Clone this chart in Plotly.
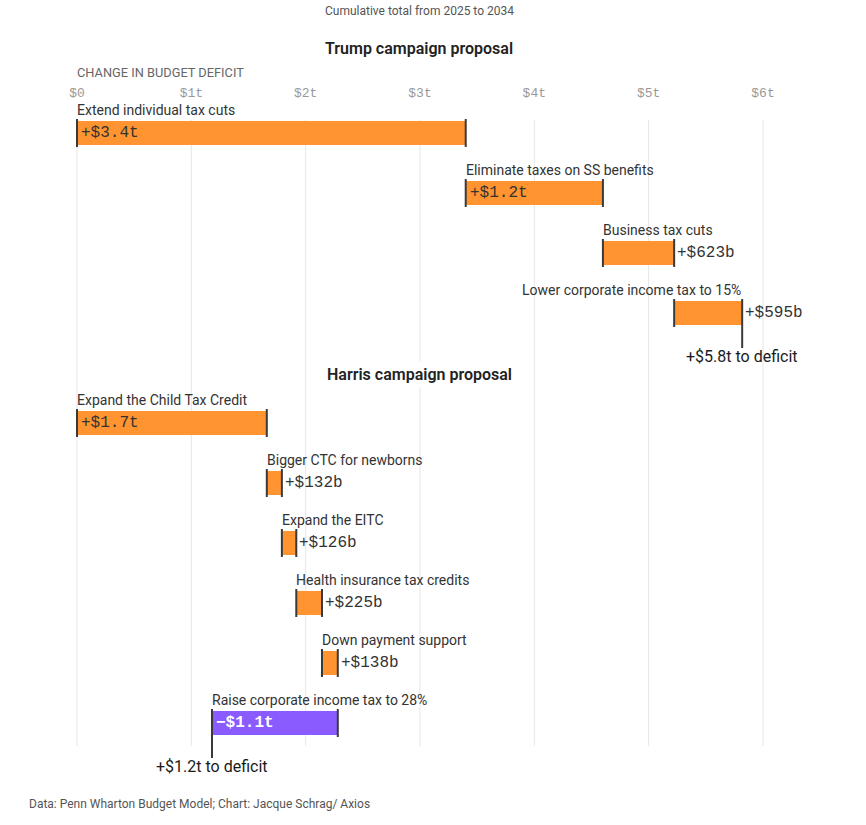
import plotly.graph_objects as go

# ---------------- data ----------------
trump_labels = ["Extend individual tax cuts", "Eliminate taxes on SS benefits",
                "Business tax cuts", "Lower corporate income tax to 15%"]
trump_values = [3.4, 1.2, 0.623, 0.595]          # $ trillions
trump_text = ["+$3.4t", "+$1.2t", "+$623b", "+$595b"]
trump_total_text = "+$5.8t to deficit"

harris_labels = ["Expand the Child Tax Credit", "Bigger CTC for newborns", "Expand the EITC",
                 "Health insurance tax credits", "Down payment support",
                 "Raise corporate income tax to 28%"]
harris_values = [1.66, 0.132, 0.126, 0.225, 0.138, -1.1]   # $ trillions
harris_text = ["+$1.7t", "+$132b", "+$126b", "+$225b", "+$138b", "\u2212$1.1t"]
harris_total_text = "+$1.2t to deficit"

tick_values = [0, 1, 2, 3, 4, 5, 6]
tick_labels = ["$0", "$1t", "$2t", "$3t", "$4t", "$5t", "$6t"]

# ---------------- layout constants ----------------
PAGE_OFF = 0                      # body margin removed by post_script
W, H = 866 - 2 * PAGE_OFF, 825 - 2 * PAGE_OFF
X0_PX, PX_PER_T = 77 - PAGE_OFF, 114.33
ROW_GAP = 60
BAR_H = 24
TRUMP_TOP = 133
HARRIS_TOP = 423
GRID_TOP, GRID_BOTTOM = 120, 746

ORANGE = "#FF9430"
PURPLE = "#8A5CFF"
CAP = "#3a3a3a"
SANS = "Roboto"
MONO = "Liberation Mono"

fig = go.Figure()
annotations = []
shapes = []

for v in tick_values:
    shapes.append(dict(type="line", xref="x", yref="y", x0=v, x1=v, y0=GRID_TOP, y1=GRID_BOTTOM,
                       line=dict(color="#e6e6e6", width=1), layer="below"))


def add_section(labels, values, texts, top, total_text, total_drop, align_right_last):
    starts, ends, ys = [], [], []
    cum = 0.0
    for i, v in enumerate(values):
        starts.append(cum)
        cum += v
        ends.append(cum)
        ys.append(top + i * ROW_GAP)
    colors = [ORANGE if v >= 0 else PURPLE for v in values]
    fig.add_trace(go.Bar(orientation="h", base=starts, x=values, y=ys, width=BAR_H,
                         marker=dict(color=colors, line=dict(width=0)),
                         hoverinfo="skip", showlegend=False))
    # caps
    cx, cy = [], []
    last = len(values) - 1
    for i in range(len(values)):
        for edge in (starts[i], ends[i]):
            cx += [edge, edge, None]
            bottom = ys[i] + BAR_H / 2 + 2
            if i == last and edge == ends[i]:
                bottom = ys[i] + BAR_H / 2 + total_drop
            cy += [ys[i] - BAR_H / 2 - 2, bottom, None]
    fig.add_trace(go.Scatter(x=cx, y=cy, mode="lines", line=dict(color=CAP, width=2),
                             hoverinfo="skip", showlegend=False))
    for i, (lab, v, t) in enumerate(zip(labels, values, texts)):
        lo, hi = min(starts[i], ends[i]), max(starts[i], ends[i])
        right = (i == last and align_right_last)
        annotations.append(dict(x=hi if right else lo, y=ys[i] - 23, text=lab, showarrow=False,
                                xanchor="right" if right else "left", yanchor="middle",
                                xshift=1 if right else -2,
                                font=dict(family=SANS, size=14, color="#333333")))
        inside = abs(v) >= 1
        annotations.append(dict(x=lo if inside else hi, y=ys[i], text=t, showarrow=False,
                                xanchor="left", yanchor="middle", xshift=2 if inside else 1,
                                font=dict(family=MONO, size=16,
                                          color="#ffffff" if v < 0 else "#333333",
                                          weight="bold" if v < 0 else "normal")))
    annotations.append(dict(x=ends[last], y=ys[last] + BAR_H / 2 + total_drop + 8,
                            text=total_text, showarrow=False, xanchor="center", yanchor="middle",
                            font=dict(family=SANS, size=16, color="#1a1a1a")))


add_section(trump_labels, trump_values, trump_text, TRUMP_TOP, trump_total_text, 23, True)
add_section(harris_labels, harris_values, harris_text, HARRIS_TOP, harris_total_text, 23, False)

# titles and notes
annotations += [
    dict(x=0.5, xref="paper", y=11, text="Cumulative total from 2025 to 2034", showarrow=False,
         xanchor="center", yanchor="middle", xshift=-14, font=dict(family=SANS, size=12, color="#555555")),
    dict(x=0.5, xref="paper", y=48, text="Trump campaign proposal", showarrow=False,
         xanchor="center", yanchor="middle", xshift=-14,
         font=dict(family=SANS, size=16, color="#222222", weight=600)),
    dict(x=0.5, xref="paper", y=374, text="Harris campaign proposal", showarrow=False,
         xanchor="center", yanchor="middle", xshift=-14, bgcolor="#ffffff", borderpad=3,
         font=dict(family=SANS, size=16, color="#222222", weight=600)),
    dict(x=0, y=72, text="CHANGE IN BUDGET DEFICIT", showarrow=False, xanchor="left", yanchor="middle",
         xshift=-2, font=dict(family=SANS, size=12.8, color="#666666")),
    dict(x=(27 - PAGE_OFF) / W, xref="paper", y=804,
         text="Data: Penn Wharton Budget Model; Chart: Jacque Schrag/ Axios",
         showarrow=False, xanchor="left", yanchor="middle",
         font=dict(family=SANS, size=12, color="#555555")),
]

x_lo = -X0_PX / PX_PER_T
x_hi = (W - X0_PX) / PX_PER_T

fig.update_layout(
    width=W, height=H, margin=dict(l=0, r=0, t=0, b=0),
    paper_bgcolor="#ffffff", plot_bgcolor="#ffffff",
    showlegend=False, barmode="overlay",
    xaxis=dict(range=[x_lo, x_hi], side="top", anchor="free", position=1 - (100 - PAGE_OFF) / H,
               tickvals=tick_values, ticktext=tick_labels, showgrid=False, zeroline=False,
               showline=False, ticks="", tickfont=dict(family=MONO, size=13, color="#999999"),
               fixedrange=True),
    yaxis=dict(range=[H + PAGE_OFF, PAGE_OFF], visible=False, showgrid=False, zeroline=False,
               fixedrange=True),
    shapes=shapes, annotations=annotations,
)

fig.write_html("out.html", config={"displayModeBar": False},
               post_script="document.body.style.margin='0';document.body.style.overflow='hidden';")
